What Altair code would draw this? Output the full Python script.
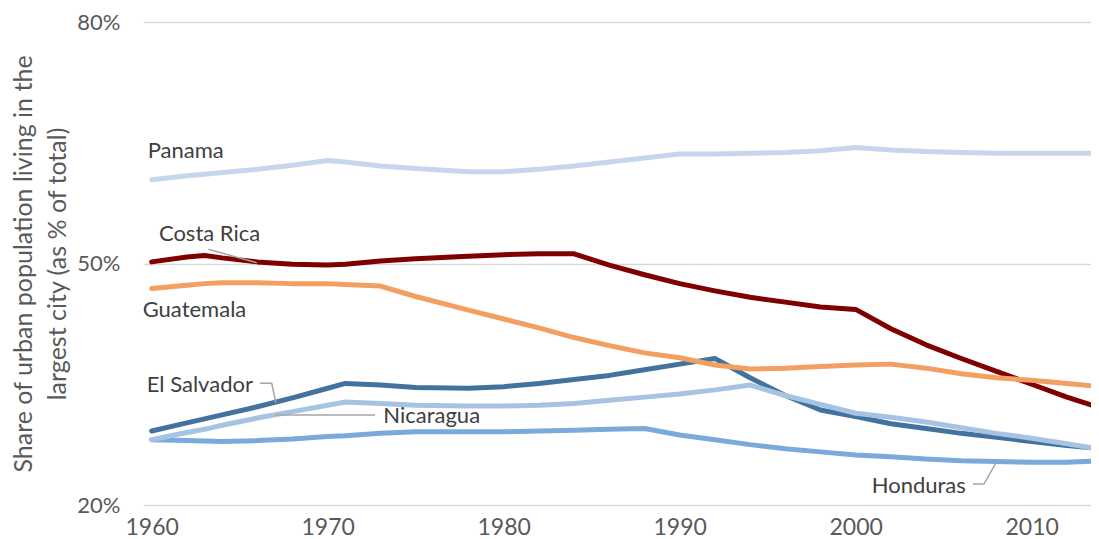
import altair as alt
import pandas as pd

years = [1960, 1962, 1963, 1964, 1966, 1968, 1970, 1971, 1973, 1975, 1978, 1980,
         1982, 1984, 1986, 1988, 1990, 1992, 1994, 1996, 1998, 2000, 2002, 2004,
         2006, 2008, 2010, 2012, 2014]

costa_rica = [50.2, 50.8, 51.0, 50.7, 50.2, 49.9, 49.8, 49.9, 50.3, 50.6, 50.9, 51.1,
              51.2, 51.2, 49.8, 48.6, 47.5, 46.6, 45.8, 45.2, 44.6, 44.3, 41.9, 39.9,
              38.2, 36.6, 35.0, 33.4, 32.0]
el_salvador = [29.2, 30.2, 30.7, 31.2, 32.2, 33.3, 34.5, 35.1, 34.9, 34.6, 34.5, 34.7,
               35.1, 35.6, 36.1, 36.8, 37.5, 38.2, 35.8, 33.6, 31.8, 31.0, 30.1, 29.5,
               28.9, 28.4, 27.9, 27.4, 27.0]
guatemala = [46.9, 47.3, 47.5, 47.6, 47.6, 47.5, 47.5, 47.4, 47.2, 45.9, 44.2, 43.1,
             42.0, 40.8, 39.8, 38.9, 38.3, 37.4, 36.9, 37.0, 37.2, 37.4, 37.5, 37.0,
             36.3, 35.8, 35.5, 35.1, 34.7]
honduras = [28.1, 28.0, 27.95, 27.9, 28.0, 28.2, 28.5, 28.6, 28.9, 29.1, 29.1, 29.1,
            29.2, 29.3, 29.4, 29.5, 28.7, 28.1, 27.5, 27.0, 26.6, 26.2, 26.0, 25.7,
            25.5, 25.4, 25.3, 25.3, 25.5]
nicaragua = [28.1, 29.0, 29.4, 29.9, 30.8, 31.6, 32.4, 32.8, 32.6, 32.4, 32.3, 32.3,
             32.4, 32.6, 33.0, 33.4, 33.8, 34.3, 34.9, 33.6, 32.5, 31.4, 30.9, 30.3,
             29.6, 28.9, 28.3, 27.6, 26.9]
panama = [60.4, 60.9, 61.1, 61.3, 61.7, 62.2, 62.8, 62.6, 62.1, 61.8, 61.4, 61.4,
          61.7, 62.1, 62.6, 63.1, 63.6, 63.6, 63.7, 63.8, 64.0, 64.4, 64.1, 63.9,
          63.8, 63.7, 63.7, 63.7, 63.7]

countries = ["Costa Rica", "El Salvador", "Guatemala", "Honduras", "Nicaragua", "Panama"]
colors = ["#800000", "#43729f", "#f39f62", "#7aaadc", "#a7c3e4", "#c6d6ec"]
series = [costa_rica, el_salvador, guatemala, honduras, nicaragua, panama]

rows = []
for i, (c, vals) in enumerate(zip(countries, series)):
    for y, v in zip(years, vals):
        rows.append({"country": c, "year": y, "value": v, "ord": i})
df = pd.DataFrame(rows)

# annotation labels (year, value at text baseline)
label_text = ["Panama", "Costa Rica", "Guatemala", "El Salvador", "Nicaragua", "Honduras"]
label_year = [1959.77, 1960.41, 1959.49, 1959.72, 1973.16, 2000.91]
label_value = [63.1, 52.83, 43.39, 34.07, 30.15, 21.53]
labels_df = pd.DataFrame({"text": label_text, "year": label_year, "value": label_value})

# leader lines
leader_id = ["cr", "cr", "es", "es", "es", "ni", "ni", "ho", "ho", "ho"]
leader_year = [1963.22, 1965.97, 1966.15, 1966.82, 1967.05, 1967.01, 1972.69,
               2006.66, 2007.29, 2008.01]
leader_value = [51.76, 50.1, 35.12, 35.12, 32.71, 31.18, 31.18, 22.61, 22.61, 25.38]
leaders_df = pd.DataFrame({"id": leader_id, "year": leader_year, "value": leader_value,
                           "o": list(range(len(leader_id)))})

FONT = "Lato"
xscale = alt.Scale(domain=[1959.506, 2013.37], nice=False, zero=False)
yscale = alt.Scale(domain=[20, 80], nice=False, zero=False)

lines = alt.Chart(df).mark_line(strokeWidth=5, strokeJoin="round", strokeCap="round", clip=True).encode(
    x=alt.X("year:Q", scale=xscale,
            axis=alt.Axis(values=[1960, 1970, 1980, 1990, 2000, 2010], format="d",
                          grid=False, domain=False, ticks=False, labelFontSize=23,
                          labelColor="#595959", labelFont=FONT, labelPadding=11,
                          title=None)),
    y=alt.Y("value:Q", scale=yscale,
            axis=alt.Axis(values=[20, 50, 80], labelExpr="datum.value + '%'",
                          grid=True, gridColor="#d9d9d9", gridWidth=1.5,
                          domain=False, ticks=False, labelFontSize=22,
                          labelColor="#595959", labelFont=FONT, labelPadding=23,
                          title=["Share of urban population living in the",
                                 "largest city (as % of total)"],
                          titleFont=FONT, titleFontSize=25, titleFontWeight="normal",
                          titleColor="#595959", titleLineHeight=34,
                          titleX=-132, titleBaseline="top", titleAngle=-90)),
    color=alt.Color("country:N", scale=alt.Scale(domain=countries, range=colors), legend=None),
    order=alt.Order("ord:Q"),
)

leaders = alt.Chart(leaders_df).mark_line(strokeWidth=1.5, color="#a6a6a6").encode(
    x=alt.X("year:Q", scale=xscale),
    y=alt.Y("value:Q", scale=yscale),
    detail="id:N",
    order="o:Q",
)

texts = alt.Chart(labels_df).mark_text(align="left", baseline="alphabetic", fontSize=22,
                                       font=FONT, color="#404040").encode(
    x=alt.X("year:Q", scale=xscale),
    y=alt.Y("value:Q", scale=yscale),
    text="text:N",
)

chart = alt.layer(lines, leaders, texts).properties(
    width=948, height=483,
    autosize=alt.AutoSizeParams(type="none"),
    padding={"left": 135, "top": 14, "right": 0, "bottom": 34},
).configure_view(stroke=None)

chart.save("out.html", embed_options={"renderer": "svg", "actions": False})
